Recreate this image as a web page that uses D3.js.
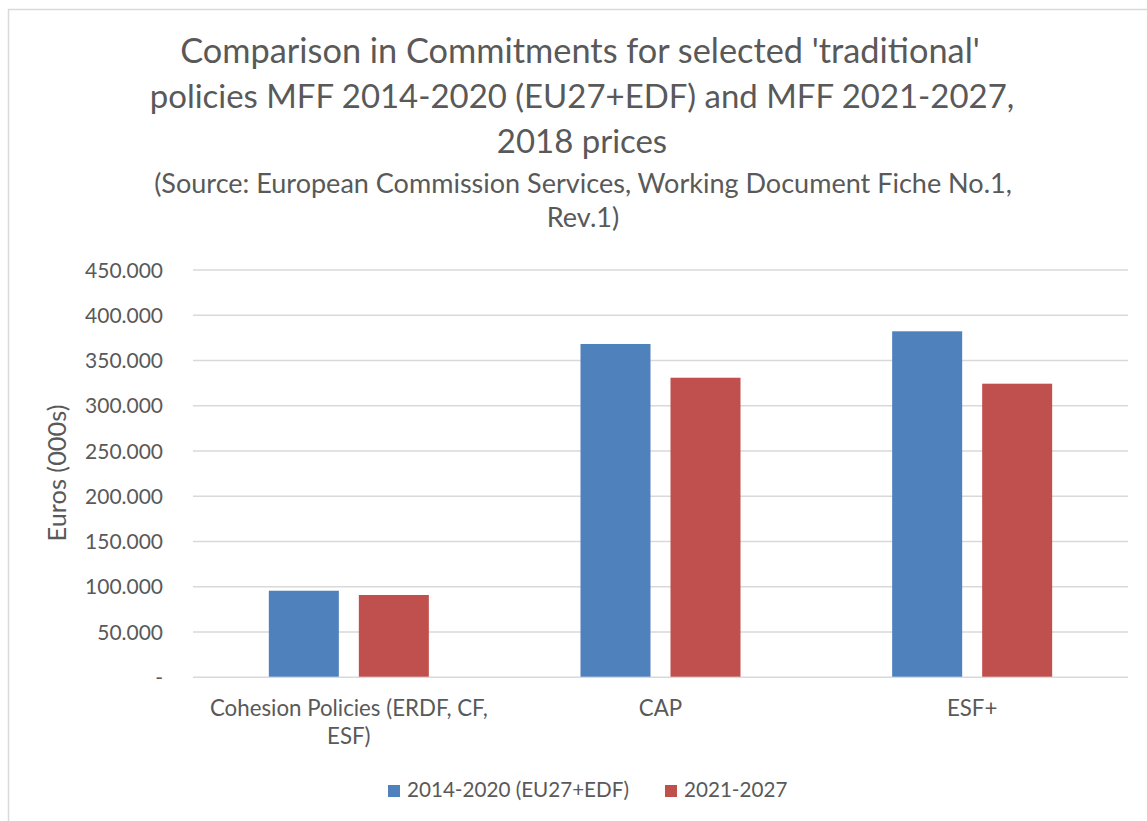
<!DOCTYPE html>
<html><head><meta charset="utf-8">
<script src="https://cdn.jsdelivr.net/npm/d3@7"></script>
<style>
html,body{margin:0;padding:0;background:#fff;}
svg{display:block;}
text{font-family:Lato,"Open Sans",sans-serif;fill:#595959;}
</style></head>
<body>
<svg id="chart" width="1147" height="821"></svg>
<script>
const categories = ["Cohesion Policies (ERDF, CF, ESF)", "CAP", "ESF+"];
const categoryLines = [["Cohesion Policies (ERDF, CF,", "ESF)"], ["CAP"], ["ESF+"]];
const seriesNames = ["2014-2020 (EU27+EDF)", "2021-2027"];
const values2014 = [95000, 367700, 381700];
const values2021 = [90300, 330400, 323800];
const yTicks = [0, 50000, 100000, 150000, 200000, 250000, 300000, 350000, 400000, 450000];
const titleLines = ["Comparison in Commitments for selected 'traditional'", "policies MFF 2014-2020 (EU27+EDF) and MFF 2021-2027,", "2018 prices"];
const subtitleLines = ["(Source: European Commission Services, Working Document Fiche No.1,", "Rev.1)"];
const yTitle = "Euros (000s)";
const colors = ["#4F81BD", "#C0504D"];

const svg = d3.select("#chart");
const seriesValues = [values2014, values2021];

// frame
svg.append("line").attr("x1", 8).attr("x2", 1147).attr("y1", 9.5).attr("y2", 9.5).attr("stroke", "#d9d9d9").attr("stroke-width", 1.5);
svg.append("line").attr("x1", 8.5).attr("x2", 8.5).attr("y1", 9).attr("y2", 821).attr("stroke", "#d9d9d9").attr("stroke-width", 1.5);

function fit(sel, target, base) {
  sel.style("font-size", base + "px");
  const w = sel.node().getComputedTextLength();
  const fs = base * target / w;
  sel.style("font-size", fs + "px");
  return fs;
}

// title
const t1 = svg.append("text").attr("x", 580).attr("y", 63).attr("text-anchor", "middle").text(titleLines[0]);
fit(t1, 800, 34);
const t2 = svg.append("text").attr("x", 582).attr("y", 108).attr("text-anchor", "middle").text(titleLines[1]);
const fs2 = fit(t2, 865, 34);
svg.append("text").attr("x", 582).attr("y", 153).attr("text-anchor", "middle").style("font-size", fs2 + "px").text(titleLines[2]);

const s1 = svg.append("text").attr("x", 583).attr("y", 193).attr("text-anchor", "middle").text(subtitleLines[0]);
const fss = fit(s1, 858, 24);
svg.append("text").attr("x", 583).attr("y", 227).attr("text-anchor", "middle").style("font-size", fss + "px").text(subtitleLines[1]);

// scales
const y = d3.scaleLinear().domain([0, 450000]).range([676.7, 269.5]);
const x0 = d3.scaleBand().domain(categories).range([193, 1128]).paddingInner(0.4866).paddingOuter(0.2433);
const x1 = d3.scaleBand().domain(seriesNames).range([0, x0.bandwidth()]).paddingInner(20 / 90);

const loc = d3.formatLocale({decimal: ",", thousands: ".", grouping: [3], currency: ["€", ""]});
const fmt = loc.format(",.0f");

// gridlines
const yAxis = d3.axisLeft(y).tickValues(yTicks).tickSize(-(1128 - 193)).tickPadding(30)
  .tickFormat(d => d === 0 ? "-" : fmt(d));
const gy = svg.append("g").attr("transform", "translate(193,0)").call(yAxis);
gy.select(".domain").remove();
gy.selectAll(".tick line").attr("stroke", "#d9d9d9").attr("stroke-width", 1.5);
gy.selectAll(".tick text").attr("fill", "#595959").style("font-family", "Lato,'Open Sans',sans-serif");
const probe = gy.selectAll(".tick text").filter(d => d === 450000);
const tfs = fit(probe, 78, 20);
gy.selectAll(".tick text").style("font-size", tfs + "px").attr("dy", "0.36em");

// bars
const groups = svg.append("g").selectAll("g").data(categories).join("g")
  .attr("transform", d => `translate(${x0(d)},0)`);
groups.selectAll("rect").data((d, i) => seriesNames.map((s, j) => ({s, v: seriesValues[j][i], j})))
  .join("rect")
  .attr("x", d => x1(d.s)).attr("width", x1.bandwidth())
  .attr("y", d => y(d.v)).attr("height", d => y(0) - y(d.v))
  .attr("fill", d => colors[d.j]);

// category labels
const cl = svg.append("g");
let catFs = 18;
categories.forEach((c, i) => {
  const cx = x0(c) + x0.bandwidth() / 2;
  categoryLines[i].forEach((line, k) => {
    const t = cl.append("text").attr("x", cx).attr("y", 716 + k * 28).attr("text-anchor", "middle").text(line);
    if (i === 0 && k === 0) catFs = fit(t, 278, 18);
  });
});
cl.selectAll("text").style("font-size", catFs + "px");

// y title
const yt = svg.append("text").attr("transform", "translate(66,473) rotate(-90)").attr("text-anchor", "middle").text(yTitle);
fit(yt, 137, 20);

// legend
const lg = svg.append("g");
const legX = [388, 665];
seriesNames.forEach((s, i) => {
  lg.append("rect").attr("x", legX[i]).attr("y", 785).attr("width", 12).attr("height", 12).attr("fill", colors[i]);
  lg.append("text").attr("x", legX[i] + 19).attr("y", 797).text(s).attr("class", "lt");
});
const lfs = fit(lg.select("text.lt"), 222, 20);
lg.selectAll("text").style("font-size", lfs + "px");
</script>
</body></html>
